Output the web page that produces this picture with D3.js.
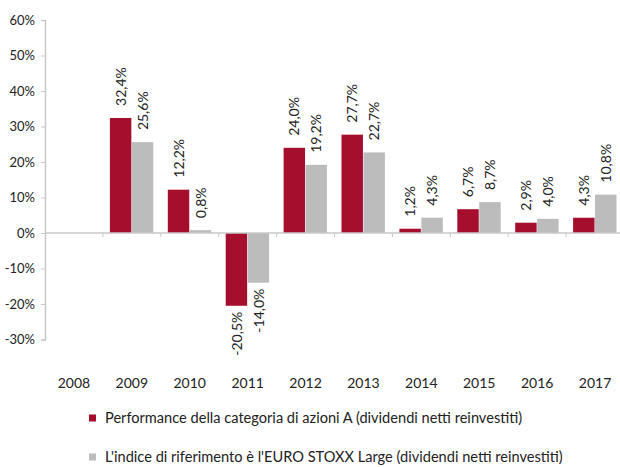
<!DOCTYPE html>
<html>
<head>
<meta charset="utf-8">
<script src="https://cdn.jsdelivr.net/npm/d3@7"></script>
<style>
  body { margin: 0; background: #fff; }
  svg { display: block; font-family: Lato, "Open Sans", sans-serif; }
</style>
</head>
<body>
<svg id="chart" width="620" height="467"></svg>
<script>
const years = ['2008', '2009', '2010', '2011', '2012', '2013', '2014', '2015', '2016', '2017'];
const fundValues = [null, 32.4, 12.2, -20.5, 24.0, 27.7, 1.2, 6.7, 2.9, 4.3];
const indexValues = [null, 25.6, 0.8, -14.0, 19.2, 22.7, 4.3, 8.7, 4.0, 10.8];
const yTicks = [60, 50, 40, 30, 20, 10, 0, -10, -20, -30];
const seriesNames = [
  'Performance della categoria di azioni A (dividendi netti reinvestiti)',
  "L'indice di riferimento è l'EURO STOXX Large (dividendi netti reinvestiti)"
];
const colors = ['#a50f2d', '#bcbcbc'];

const svg = d3.select('#chart');
const axisColor = '#c8c8c8';

const x = d3.scaleBand().domain(years).range([45, 624]);
const sub = d3.scaleBand().domain([0, 1]).range([7, x.bandwidth() - 7]);
const y = d3.scaleLinear().domain([-30, 60]).range([339.5, 20]);

// italian style: comma decimal, plain hyphen for negatives
const fmt = v => d3.format('.1f')(v).replace('.', ',').replace('\u2212', '-') + '%';

// y axis
const yAxis = svg.append('g')
  .attr('transform', 'translate(45,0)')
  .call(d3.axisLeft(y).tickValues(yTicks).tickSize(4).tickPadding(6).tickFormat(d => d + '%'));
yAxis.select('.domain').attr('stroke', axisColor).attr('stroke-width', 1.5);
yAxis.selectAll('.tick line').attr('stroke', axisColor);
yAxis.selectAll('.tick text')
  .attr('fill', '#222')
  .style('font-size', '13px')
  .style('font-family', 'Lato, sans-serif');

// bars
const data = years.map((yr, i) => ({ year: yr, vals: [fundValues[i], indexValues[i]] }));
const groups = svg.append('g').selectAll('g')
  .data(data)
  .join('g')
  .attr('transform', d => 'translate(' + x(d.year) + ',0)');

groups.selectAll('rect')
  .data(d => d.vals.map((v, k) => ({ v, k })).filter(e => e.v !== null))
  .join('rect')
  .attr('x', e => sub(e.k))
  .attr('width', sub.bandwidth() - 0.5)
  .attr('y', e => y(Math.max(0, e.v)))
  .attr('height', e => Math.abs(y(e.v) - y(0)))
  .attr('fill', e => colors[e.k]);

// value labels, rotated
groups.selectAll('text.val')
  .data(d => d.vals.map((v, k) => ({ v, k })).filter(e => e.v !== null))
  .join('text')
  .attr('class', 'val')
  .attr('transform', e => {
    const cx = sub(e.k) + sub.bandwidth() / 2;
    const cy = e.v >= 0 ? y(e.v) - 12 : y(e.v) + 6;
    return 'translate(' + cx + ',' + cy + ') rotate(-90)';
  })
  .attr('dy', '0.35em')
  .attr('text-anchor', e => e.v >= 0 ? 'start' : 'end')
  .attr('fill', '#222')
  .style('font-size', '14px')
  .text(e => fmt(e.v));

// x axis along zero
const xAxisG = svg.append('g').attr('transform', 'translate(0,' + y(0) + ')');
xAxisG.append('line')
  .attr('x1', 45).attr('x2', 624)
  .attr('stroke', axisColor).attr('stroke-width', 1.5);
xAxisG.selectAll('line.tk')
  .data(years.slice(1))
  .join('line')
  .attr('class', 'tk')
  .attr('x1', d => x(d)).attr('x2', d => x(d))
  .attr('y1', 0).attr('y2', 4)
  .attr('stroke', axisColor);

// year labels
svg.append('g').selectAll('text')
  .data(years)
  .join('text')
  .attr('x', d => x(d) + x.bandwidth() / 2)
  .attr('y', 383)
  .attr('dy', '0.35em')
  .attr('text-anchor', 'middle')
  .attr('fill', '#222')
  .style('font-size', '14px')
  .text(d => d);

// legend
const legend = svg.append('g').selectAll('g')
  .data(seriesNames)
  .join('g')
  .attr('transform', (d, i) => 'translate(89,' + (418 + i * 39) + ')');
legend.append('rect')
  .attr('x', 0).attr('y', -3.5)
  .attr('width', 7).attr('height', 7)
  .attr('fill', (d, i) => colors[i]);
legend.append('text')
  .attr('x', 16)
  .attr('dy', '0.35em')
  .attr('fill', '#222')
  .style('font-size', '14.6px')
  .text(d => d);
</script>
</body>
</html>
